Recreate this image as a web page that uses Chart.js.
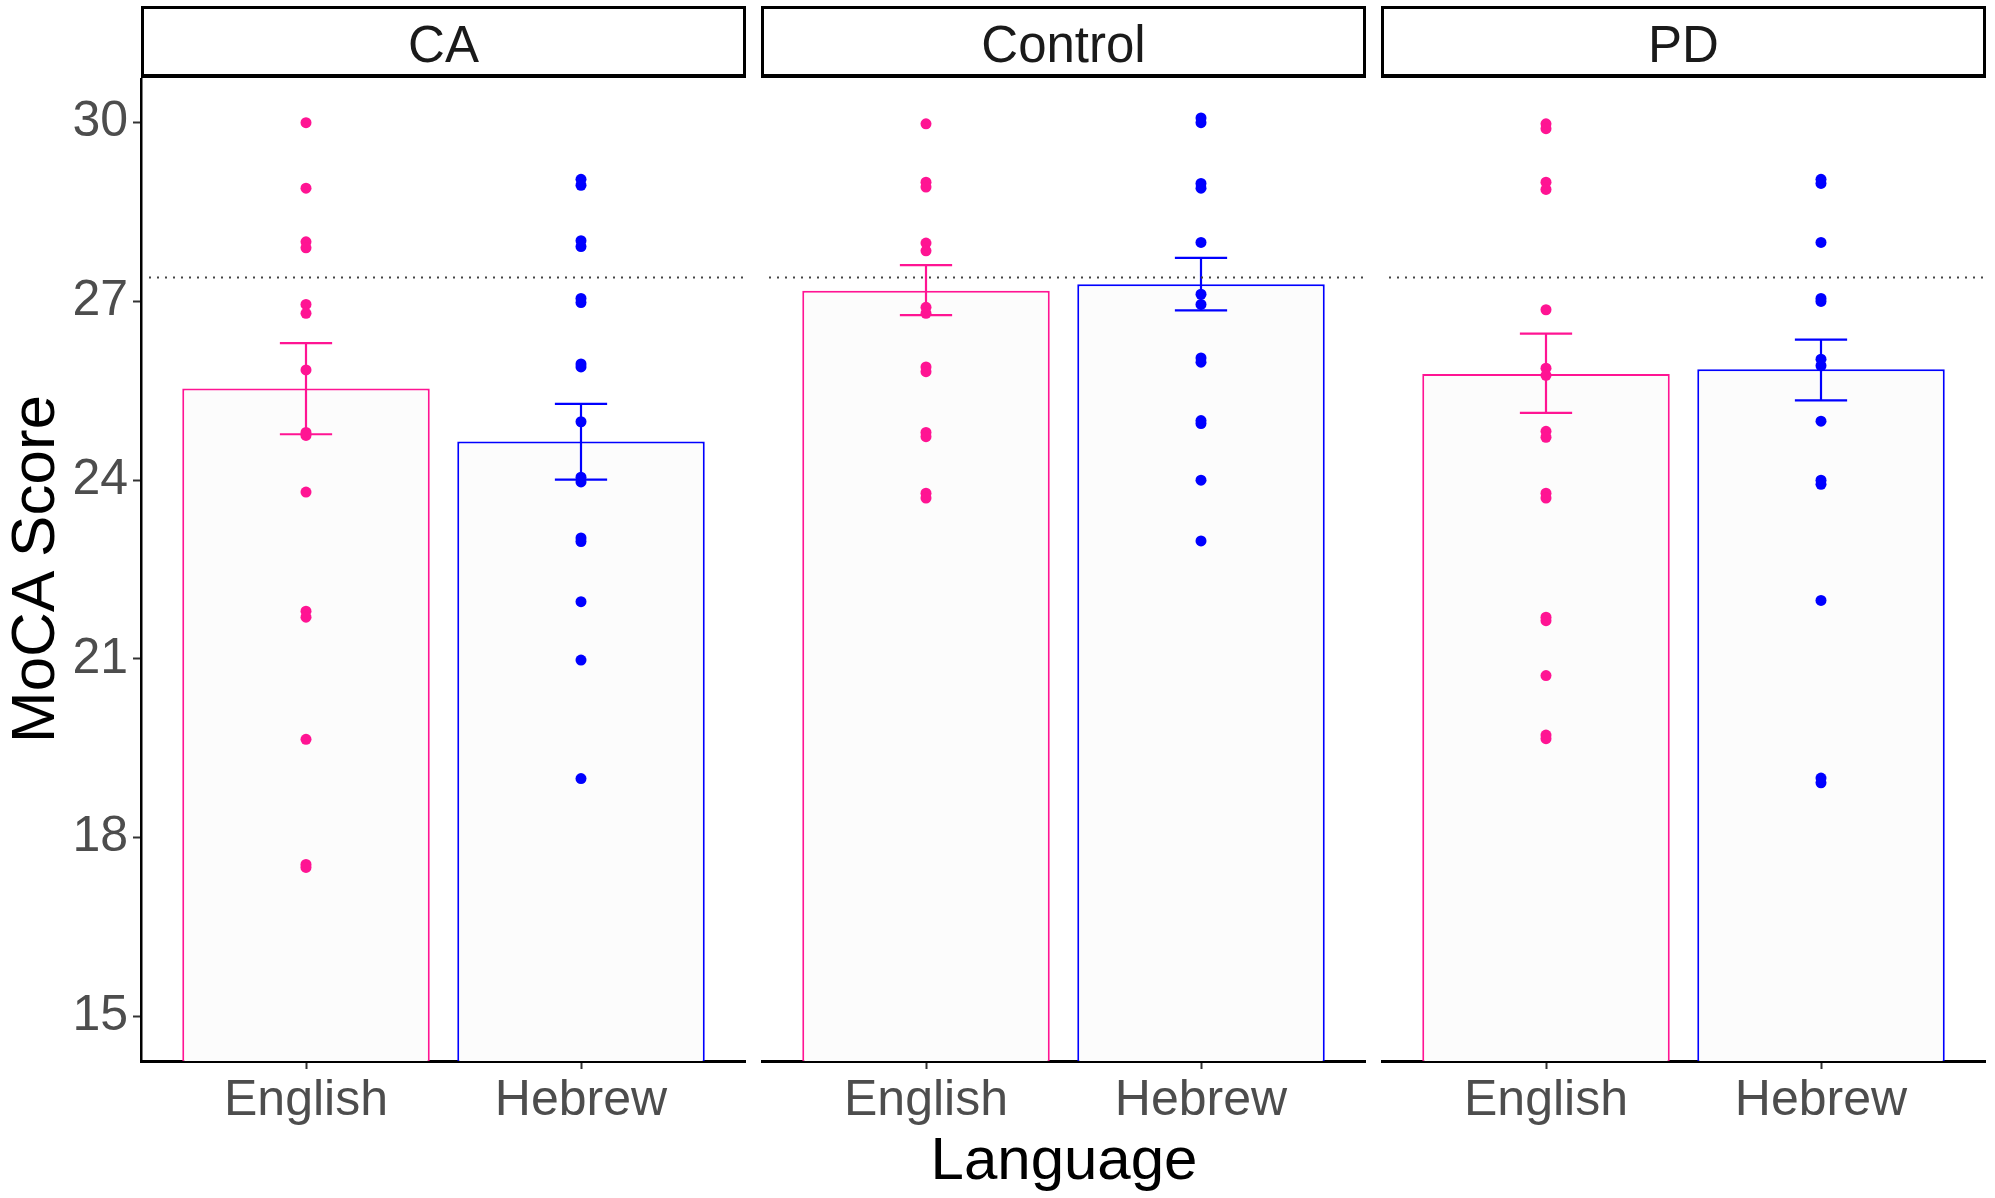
<!DOCTYPE html>
<html>
<head>
<meta charset="utf-8">
<script src="https://cdn.jsdelivr.net/npm/chart.js@4.4.1/dist/chart.umd.min.js"></script>
<style>
  body { margin: 0; background: #fff; font-family: "Liberation Sans", Arial, sans-serif; }
  #wrap { position: absolute; left: 0; top: 0; width: 1995px; height: 1198px; overflow: hidden; }
  .panel { position: absolute; top: 78px; height: 1120px; }
  .panel canvas { display: block; }
  .strip { position: absolute; top: 6px; height: 72px; box-sizing: border-box;
           border: 3px solid #000; border-bottom-width: 4px; background: #fff;
           font-size: 51px; color: #1a1a1a; text-align: center; line-height: 72px; }
  .ytitle { position: absolute; left: 32px; top: 569px; font-size: 62px; color: #000;
            transform: translate(-50%, -50%) rotate(-90deg); white-space: nowrap; }
  .xtitle { position: absolute; left: 1064px; top: 1158px; font-size: 60px; color: #000;
            transform: translate(-50%, -50%); white-space: nowrap; }
</style>
</head>
<body>
<div id="wrap">
  <div class="ytitle">MoCA Score</div>
  <div class="xtitle">Language</div>
</div>
<script>
// categories and groups
const languages = ["English", "Hebrew"];
const groups = ["CA", "Control", "PD"];
const yTicks = [15, 18, 21, 24, 27, 30];
const cutoff = 27.4;

// bar heights (mean) and error bar ends, per group: [English, Hebrew]
const meanCA = [25.54, 24.65];
const meanControl = [27.18, 27.29];
const meanPD = [25.78, 25.86];
const lowCA = [24.77, 24.01];
const highCA = [26.30, 25.28];
const lowControl = [26.77, 26.85];
const highControl = [27.61, 27.73];
const lowPD = [25.13, 25.34];
const highPD = [26.46, 26.36];

// individual scores
const caEnglish = [30.0, 28.9, 28.0, 27.9, 26.95, 26.8, 25.85, 24.8, 24.75, 23.8, 21.8, 21.7, 19.65, 17.55, 17.5];
const caHebrew = [29.05, 28.95, 28.02, 27.92, 27.05, 26.98, 25.95, 25.9, 24.98, 24.05, 23.97, 23.03, 22.97, 21.96, 20.98, 18.99];
const controlEnglish = [29.98, 29.0, 28.92, 27.98, 27.85, 26.9, 26.8, 25.9, 25.82, 24.8, 24.73, 23.78, 23.7];
const controlHebrew = [30.08, 30.0, 28.98, 28.9, 27.99, 27.12, 26.95, 26.05, 25.98, 25.0, 24.95, 24.0, 22.98];
const pdEnglish = [29.98, 29.9, 29.0, 28.88, 26.86, 25.88, 25.76, 24.82, 24.72, 23.78, 23.7, 21.7, 21.64, 20.72, 19.72, 19.66];
const pdHebrew = [29.05, 28.98, 27.99, 27.05, 27.0, 26.03, 25.92, 24.99, 24.0, 23.93, 21.98, 19.0, 18.92];

const PINK = "#ff1493";
const BLUE = "#0000ff";
const langColors = [PINK, BLUE];

const panelData = {
  CA: { mean: meanCA, low: lowCA, high: highCA, pts: [caEnglish, caHebrew] },
  Control: { mean: meanControl, low: lowControl, high: highControl, pts: [controlEnglish, controlHebrew] },
  PD: { mean: meanPD, low: lowPD, high: highPD, pts: [pdEnglish, pdHebrew] }
};

// error bars (after bars, before points) and the dotted cutoff line
const extras = {
  id: "extras",
  afterDatasetDraw(chart, args, opts) {
    if (args.index !== 0) return;
    const ctx = chart.ctx, xs = chart.scales.x, ys = chart.scales.y;
    ctx.save();
    ctx.lineWidth = 2.2;
    opts.low.forEach((lo, i) => {
      const xc = xs.getPixelForValue(i + 1);
      const xl = xs.getPixelForValue(i + 1 - opts.cap / 2);
      const xr = xs.getPixelForValue(i + 1 + opts.cap / 2);
      const y1 = ys.getPixelForValue(lo), y2 = ys.getPixelForValue(opts.high[i]);
      ctx.strokeStyle = langColors[i];
      ctx.beginPath();
      ctx.moveTo(xc, y1); ctx.lineTo(xc, y2);
      ctx.moveTo(xl, y1); ctx.lineTo(xr, y1);
      ctx.moveTo(xl, y2); ctx.lineTo(xr, y2);
      ctx.stroke();
    });
    ctx.restore();
  },
  afterDatasetsDraw(chart, args, opts) {
    const ctx = chart.ctx, ca = chart.chartArea;
    const y = chart.scales.y.getPixelForValue(opts.cutoff);
    ctx.save();
    ctx.strokeStyle = "#444";
    ctx.lineWidth = 2;
    ctx.setLineDash([2, 6]);
    ctx.beginPath();
    ctx.moveTo(ca.left + 8, y); ctx.lineTo(ca.right, y);
    ctx.stroke();
    ctx.restore();
  }
};

const panelLeft = { CA: 141, Control: 761, PD: 1381 };
const panelWidth = 605;
const yAxisWidth = 141;
const wrap = document.getElementById("wrap");

const noPad = s => { s.paddingLeft = 0; s.paddingRight = 0; s.paddingTop = 0; s.paddingBottom = 0; };

groups.forEach((g, gi) => {
  const d = panelData[g];
  const first = gi === 0;

  const strip = document.createElement("div");
  strip.className = "strip";
  strip.style.left = panelLeft[g] + "px";
  strip.style.width = panelWidth + "px";
  strip.textContent = g;
  wrap.appendChild(strip);

  const box = document.createElement("div");
  box.className = "panel";
  const w = panelWidth + (first ? yAxisWidth : 0);
  box.style.left = (panelLeft[g] - (first ? yAxisWidth : 0)) + "px";
  box.style.width = w + "px";
  const cv = document.createElement("canvas");
  cv.width = w; cv.height = 1120;
  box.appendChild(cv);
  wrap.appendChild(box);

  new Chart(cv, {
    type: "bar",
    data: {
      datasets: [
        {
          type: "bar",
          order: 3,
          data: d.mean.map((v, i) => ({ x: i + 1, y: v })),
          backgroundColor: "#fcfcfc",
          borderColor: langColors,
          borderWidth: 2,
          borderSkipped: false,
          barPercentage: 0.9,
          categoryPercentage: 1.0
        },
        ...d.pts.map((arr, li) => ({
          type: "scatter",
          order: 1,
          data: arr.map(v => ({ x: li + 1, y: v })),
          backgroundColor: langColors[li],
          borderWidth: 0,
          pointRadius: 5.5,
          pointHoverRadius: 5.5
        }))
      ]
    },
    options: {
      responsive: false,
      animation: false,
      devicePixelRatio: 1,
      layout: { padding: 0, autoPadding: false },
      plugins: {
        legend: { display: false },
        tooltip: { enabled: false },
        extras: { low: d.low, high: d.high, cap: 0.19, cutoff: cutoff }
      },
      scales: {
        x: {
          type: "linear",
          offset: false,
          min: 0.4, max: 2.6,
          afterBuildTicks: s => { s.ticks = languages.map((_, i) => ({ value: i + 1 })); },
          afterFit: s => { s.height = 137; noPad(s); },
          ticks: {
            callback: v => languages[v - 1],
            font: { family: "Liberation Sans", size: 50 },
            color: "#4d4d4d",
            padding: 2,
            maxRotation: 0,
            autoSkip: false
          },
          grid: { display: true, offset: false, drawOnChartArea: false, drawTicks: true, tickLength: 8, tickColor: "#333", tickWidth: 2 },
          border: { display: true, color: "#000", width: 3 }
        },
        y: {
          display: first,
          min: 14.25, max: 30.75,
          afterBuildTicks: s => { s.ticks = yTicks.map(v => ({ value: v })); },
          afterFit: s => { if (first) s.width = yAxisWidth; noPad(s); },
          ticks: {
            font: { family: "Liberation Sans", size: 50 },
            color: "#4d4d4d",
            padding: 5
          },
          grid: { display: true, drawOnChartArea: false, drawTicks: true, tickLength: 8, tickColor: "#333", tickWidth: 2 },
          border: { display: true, color: "#000", width: 2.5 }
        }
      }
    },
    plugins: [extras]
  });
});
</script>
</body>
</html>
